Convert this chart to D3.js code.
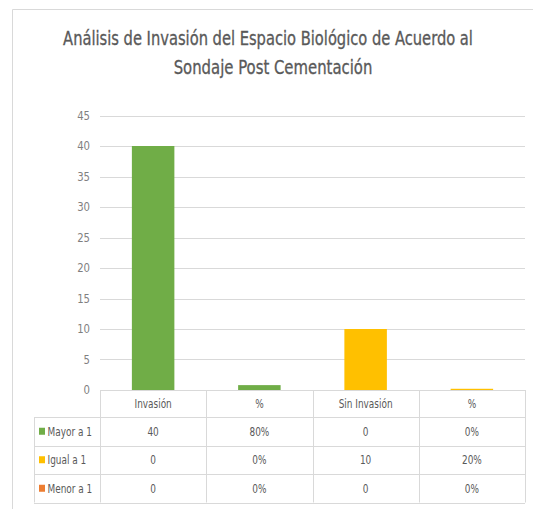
<!DOCTYPE html>
<html><head><meta charset="utf-8">
<script src="https://cdn.jsdelivr.net/npm/d3@7"></script>
<style>
html,body{margin:0;padding:0;background:#fff;overflow:hidden;width:533px;height:509px;}
svg{display:block;}
text{font-family:"DejaVu Sans Condensed","Liberation Sans Narrow","Open Sans",sans-serif;}
</style></head>
<body><svg id="c" width="533" height="509" viewBox="0 0 533 509"></svg>
<script>
const titleLines = ["Análisis de Invasión del Espacio Biológico de Acuerdo al", "Sondaje Post Cementación"];
const categories = ["Invasión", "%", "Sin Invasión", "%"];
const seriesNames = ["Mayor a 1", "Igual a 1", "Menor a 1"];
const seriesColors = ["#70ad47", "#ffc000", "#ed7d31"];
const mayor = [40, 0.8, 0, 0];
const igual = [0, 0, 10, 0.2];
const menor = [0, 0, 0, 0];
const mayorLabels = ["40", "80%", "0", "0%"];
const igualLabels = ["0", "0%", "10", "20%"];
const menorLabels = ["0", "0%", "0", "0%"];
const yTicks = [0, 5, 10, 15, 20, 25, 30, 35, 40, 45];

const seriesValues = [mayor, igual, menor];
const seriesLabels = [mayorLabels, igualLabels, menorLabels];

const svg = d3.select("#c");
const textCol = "#595959";
const gridCol = "#d9d9d9";

function placed(parent, str, cx, cy, size, anchor, f, fill) {
  return parent.append("text")
    .attr("transform", `translate(${cx},${cy}) scale(${f},1)`)
    .attr("text-anchor", anchor).attr("font-size", size).attr("fill", fill || textCol).text(str);
}
function measure(str, size) {
  const t = svg.append("text").attr("font-size", size).text(str);
  const w = t.node().getComputedTextLength();
  t.remove();
  return w;
}

// frame (top and left edges; the rest lies outside the picture)
svg.append("path").attr("d", "M12.5,509V9.5H533").attr("fill", "none").attr("stroke", "#d9d9d9");

// title
const tSize = 19;
const f1 = 410 / measure(titleLines[0], tSize);
const f2 = 199 / measure(titleLines[1], tSize);
placed(svg, titleLines[0], 268, 45, tSize, "middle", f1, "#595959").attr("stroke", "#595959").attr("stroke-width", 0.3);
placed(svg, titleLines[1], 273, 74, tSize, "middle", f2, "#595959").attr("stroke", "#595959").attr("stroke-width", 0.3);

const x = d3.scaleBand().domain(d3.range(categories.length)).range([100, 525]).paddingInner(0).paddingOuter(0);
const y = d3.scaleLinear().domain([0, 45]).range([390, 115.5]);

// gridlines
svg.append("g").selectAll("line").data(yTicks).join("line")
  .attr("x1", 100).attr("x2", 525)
  .attr("y1", d => Math.round(y(d)) + 0.5).attr("y2", d => Math.round(y(d)) + 0.5)
  .attr("stroke", gridCol).attr("stroke-width", 1);

// y tick labels
const yAxis = d3.axisLeft(y).tickValues(yTicks).tickSize(0).tickPadding(0);
const ya = svg.append("g").attr("transform", "translate(90,0)").call(yAxis);
ya.select(".domain").remove();
ya.selectAll("text").attr("font-size", 12.5).attr("fill", "#7f7f7f")
  .attr("font-family", '"DejaVu Sans Condensed","Liberation Sans Narrow",sans-serif')
  .attr("dy", "0.35em");
ya.selectAll(".tick").each(function(d) {
  d3.select(this).attr("transform", `translate(0,${y(d)}) scale(0.9,1)`);
});

// stacked bars
const stackData = categories.map((c, i) => {
  const o = {i};
  seriesNames.forEach((s, k) => o[k] = seriesValues[k][i]);
  return o;
});
const stack = d3.stack().keys(d3.range(seriesNames.length))(stackData);
const bw = x.bandwidth() * 0.4;
svg.append("g").selectAll("g").data(stack).join("g")
  .attr("fill", (d, k) => seriesColors[k])
  .selectAll("rect").data(d => d).join("rect")
  .attr("x", d => x(d.data.i) + (x.bandwidth() - bw) / 2)
  .attr("width", bw)
  .attr("y", d => y(d[1]))
  .attr("height", d => Math.max(0, y(d[0]) - y(d[1])));

// data table
const rowTops = [390, 417, 445.5, 474, 502.5];
const labelLeft = 34;
const tg = svg.append("g");
const colEdges = categories.map((c, i) => x(i)).concat([525]);
rowTops.forEach((ry, r) => {
  tg.append("line").attr("x1", r === 0 ? 100 : labelLeft).attr("x2", 525)
    .attr("y1", Math.round(ry) + 0.5).attr("y2", Math.round(ry) + 0.5)
    .attr("stroke", gridCol);
});
colEdges.forEach(cx => {
  tg.append("line").attr("x1", Math.round(cx) + 0.5).attr("x2", Math.round(cx) + 0.5)
    .attr("y1", rowTops[0]).attr("y2", rowTops[4]).attr("stroke", gridCol);
});
tg.append("line").attr("x1", labelLeft + 0.5).attr("x2", labelLeft + 0.5)
  .attr("y1", rowTops[1]).attr("y2", rowTops[4]).attr("stroke", gridCol);

const tbSize = 12.5;
const fT = 54 / measure("Sin Invasión", tbSize);

categories.forEach((c, i) => {
  placed(tg, c, x(i) + x.bandwidth() / 2, (rowTops[0] + rowTops[1]) / 2 + 4.5, tbSize, "middle", fT);
});

seriesNames.forEach((s, k) => {
  const cy = (rowTops[k + 1] + rowTops[k + 2]) / 2;
  tg.append("rect").attr("x", 39).attr("y", cy - 3.5).attr("width", 6).attr("height", 7).attr("fill", seriesColors[k]);
  placed(tg, s, 47.5, cy + 4.5, tbSize, "start", fT);
  seriesLabels[k].forEach((v, i) => {
    placed(tg, v, x(i) + x.bandwidth() / 2, cy + 4.5, tbSize, "middle", fT);
  });
});
</script></body></html>
